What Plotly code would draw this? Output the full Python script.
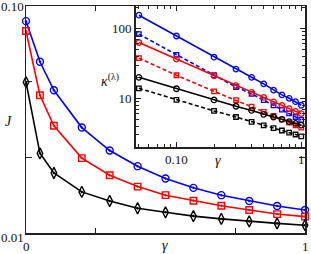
import plotly.graph_objects as go

# ---- main panel data ----
gamma = [0.0, 0.05, 0.1, 0.2, 0.3, 0.4, 0.5, 0.6, 0.7, 0.8, 0.9, 1.0]
J_blue = [0.0940, 0.0779, 0.0666, 0.0518, 0.0427, 0.0365, 0.0316, 0.0279, 0.0250, 0.0227, 0.0207, 0.0191]
J_red = [0.0901, 0.0646, 0.0525, 0.0397, 0.0329, 0.0284, 0.0250, 0.0228, 0.0208, 0.0191, 0.0175, 0.0165]
J_black = [0.0698, 0.0416, 0.0338, 0.0263, 0.0227, 0.0198, 0.0182, 0.0167, 0.0156, 0.0146, 0.0138, 0.0131]

# ---- inset data ----
gamma_in = [0.05, 0.1, 0.2, 0.3, 0.4, 0.5, 0.6, 0.7, 0.8, 0.9, 1.0]
k_blue_solid = [155, 78, 38.8, 26.2, 20.0, 16.1, 13.1, 11.2, 10.0, 8.95, 7.95]
k_blue_dash = [83, 42, 21.5, 14.5, 11.6, 9.4, 7.9, 6.9, 6.1, 5.4, 4.9]
k_red_solid = [63, 36.4, 21.0, 15.2, 12.2, 10.3, 8.9, 7.9, 7.1, 6.5, 6.05]
k_red_dash = [37.6, 21.4, 12.6, 9.4, 7.6, 6.4, 5.6, 5.0, 4.5, 4.1, 3.8]
k_black_solid = [20, 13.7, 9.47, 7.7, 6.7, 5.9, 5.4, 5.0, 4.65, 4.37, 4.12]
k_black_dash = [13.9, 9.5, 6.6, 5.4, 4.6, 4.1, 3.75, 3.46, 3.22, 3.03, 2.86]

BLUE = "#0000ff"
RED = "#ff0000"
BLACK = "#000000"
FONT = "Liberation Serif"

fig = go.Figure()

def main_trace(y, color, symbol, size):
    fig.add_trace(go.Scatter(
        x=gamma, y=y, mode="lines+markers", cliponaxis=False,
        line=dict(color=color, width=1.6),
        marker=dict(symbol=symbol, size=size, color=color, line=dict(color=color, width=1.4)),
        xaxis="x", yaxis="y", showlegend=False))

main_trace(J_blue, BLUE, "circle-open-dot", 7)
main_trace(J_red, RED, "square-open-dot", 6.5)
main_trace(J_black, BLACK, "diamond-tall-open-dot", 8)

def inset_trace(y, color, dash, symbol, size):
    fig.add_trace(go.Scatter(
        x=gamma_in, y=y, mode="lines+markers", cliponaxis=False,
        line=dict(color=color, width=1.6, dash=dash),
        marker=dict(symbol=symbol, size=size, color=color, line=dict(color=color, width=1.3)),
        xaxis="x2", yaxis="y2", showlegend=False))

inset_trace(k_blue_solid, BLUE, "solid", "circle-open", 5.5)
inset_trace(k_blue_dash, BLUE, "4px,2.5px", "square-open", 4.5)
inset_trace(k_red_solid, RED, "solid", "circle-open", 5.5)
inset_trace(k_red_dash, RED, "4px,2.5px", "square-open", 4.5)
inset_trace(k_black_solid, BLACK, "solid", "circle-open", 5.5)
inset_trace(k_black_dash, BLACK, "4px,2.5px", "square-open", 4.5)

axcol = "#222222"
fig.update_layout(
    width=311, height=254,
    margin=dict(l=26, r=4, t=4, b=21),
    paper_bgcolor="white", plot_bgcolor="white",
    font=dict(family=FONT, size=13, color="#111111"),
    xaxis=dict(domain=[0, 1], range=[0, 1], showgrid=False, zeroline=False,
               showline=True, linecolor=axcol, linewidth=1.5, mirror="ticks",
               ticks="inside", ticklen=5, tickwidth=1.2, tickcolor=axcol,
               tickvals=[0.25, 0.75], showticklabels=False),
    yaxis=dict(domain=[0, 1], range=[0.01, 0.10], showgrid=False, zeroline=False,
               showline=True, linecolor=axcol, linewidth=1.5, mirror="ticks",
               ticks="inside", ticklen=6, tickwidth=1.2, tickcolor=axcol,
               tickvals=[0.04, 0.07], showticklabels=False),
    xaxis2=dict(domain=[0.393, 1.0], anchor="y2", type="log", range=[-1.327, 0.030],
                showgrid=False, zeroline=False, showline=True, linecolor=axcol, linewidth=1.5,
                mirror="ticks", ticks="inside", ticklen=5, tickwidth=1.2, tickcolor=axcol,
                tickvals=[0.1, 1], ticktext=["0.10", "1"], tickfont=dict(size=13, family=FONT),
                minor=dict(ticks="inside", ticklen=3, tickwidth=1, tickcolor=axcol,
                           tickvals=[0.05, 0.06, 0.07, 0.08, 0.09, 0.2, 0.3, 0.4, 0.5, 0.6, 0.7, 0.8, 0.9])),
    yaxis2=dict(domain=[0.378, 1.0], anchor="x2", type="log", range=[0.300, 2.322],
                showgrid=False, zeroline=False, showline=True, linecolor=axcol, linewidth=1.5,
                mirror="ticks", ticks="inside", ticklen=5, tickwidth=1.2, tickcolor=axcol,
                tickvals=[10, 100], ticktext=["10", "100"], tickfont=dict(size=13, family=FONT),
                minor=dict(ticks="inside", ticklen=3, tickwidth=1, tickcolor=axcol,
                           tickvals=[2, 3, 4, 5, 6, 7, 8, 9, 20, 30, 40, 50, 60, 70, 80, 90, 200])),
)

# inset white background
fig.add_shape(type="rect", xref="paper", yref="paper", x0=0.393, x1=1.0, y0=0.378, y1=1.0,
              fillcolor="white", line=dict(width=0), layer="below")

def ann(text, px, py, size=13, xanchor="center"):
    fig.add_annotation(text=text, xref="paper", yref="paper",
                       x=(px - 26) / 281, y=(233 - py) / 229,
                       xanchor=xanchor, yanchor="middle", showarrow=False,
                       font=dict(family=FONT, size=size, color="#111111"))

ann("0.10", 12.5, 4.5)
ann("0.01", 12.5, 238)
ann("0", 26, 247)
ann("1", 307, 247)
ann("<i>γ</i>", 166, 246, size=14)
ann("<i>J</i>", 8, 121, size=14)
ann("<i>γ</i>", 219, 160, size=14)
ann("<i>κ</i><sup>(λ)</sup>", 111, 79, size=14)

fig.write_html("out.html",
               config={"displayModeBar": False, "staticPlot": True},
               post_script="document.body.style.margin='0px';document.body.style.padding='0px';")
